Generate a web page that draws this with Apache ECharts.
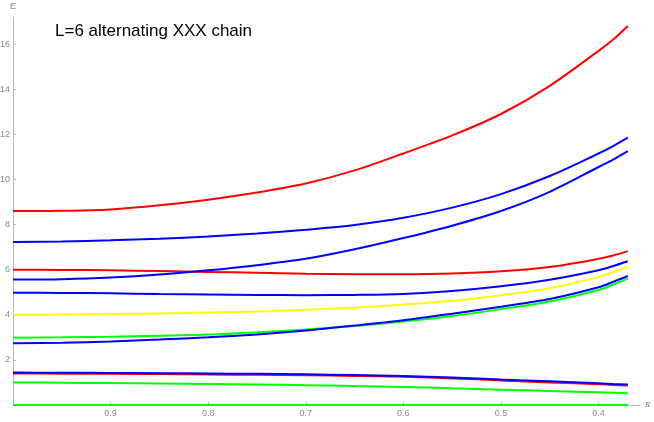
<!DOCTYPE html>
<html>
<head>
<meta charset="utf-8">
<script src="https://cdn.jsdelivr.net/npm/echarts@6/dist/echarts.min.js"></script>
<style>html,body{margin:0;padding:0;background:#fff;}#c{width:654px;height:422px;}</style>
</head>
<body>
<div id="c"></div>
<script>
const kappa = [1.0, 0.95, 0.9, 0.85, 0.8, 0.75, 0.7, 0.65, 0.6, 0.55, 0.5, 0.45, 0.4, 0.385, 0.37];
const redTop   = [8.6, 8.61, 8.67, 8.85, 9.1, 9.42, 9.82, 10.4, 11.15, 11.95, 12.9, 14.15, 15.7, 16.2, 16.8];
const blueA    = [7.23, 7.25, 7.3, 7.37, 7.47, 7.6, 7.77, 7.98, 8.3, 8.75, 9.35, 10.15, 11.15, 11.48, 11.85];
const blueB    = [5.56, 5.58, 5.65, 5.78, 5.97, 6.2, 6.48, 6.9, 7.4, 7.95, 8.6, 9.45, 10.55, 10.88, 11.25];
const redMid   = [6.0, 5.99, 5.97, 5.94, 5.9, 5.86, 5.82, 5.8, 5.8, 5.83, 5.93, 6.12, 6.48, 6.63, 6.82];
const blueC    = [4.98, 4.97, 4.95, 4.92, 4.9, 4.88, 4.87, 4.88, 4.92, 5.05, 5.26, 5.55, 5.97, 6.16, 6.37];
const yellowA  = [4.0, 4.01, 4.03, 4.06, 4.1, 4.15, 4.22, 4.32, 4.45, 4.62, 4.87, 5.18, 5.68, 5.9, 6.13];
const greenA   = [2.98, 3.0, 3.03, 3.07, 3.12, 3.22, 3.35, 3.5, 3.7, 3.95, 4.25, 4.59, 5.1, 5.34, 5.6];
const blueD    = [2.74, 2.76, 2.82, 2.9, 3.0, 3.13, 3.3, 3.52, 3.76, 4.05, 4.36, 4.7, 5.22, 5.46, 5.72];
const blueE    = [1.44, 1.43, 1.42, 1.41, 1.4, 1.38, 1.36, 1.33, 1.29, 1.22, 1.13, 1.05, 0.96, 0.93, 0.91];
const redLow   = [1.4, 1.39, 1.38, 1.37, 1.35, 1.34, 1.32, 1.29, 1.25, 1.18, 1.09, 1.0, 0.92, 0.89, 0.86];
const greenB   = [1.0, 0.99, 0.97, 0.95, 0.93, 0.91, 0.88, 0.84, 0.8, 0.74, 0.68, 0.62, 0.56, 0.54, 0.52];
const greenC   = [0, 0, 0, 0, 0, 0, 0, 0, 0, 0, 0, 0, 0, 0, 0];
const xTicks = [0.9, 0.8, 0.7, 0.6, 0.5, 0.4];
const yTicks = [2, 4, 6, 8, 10, 12, 14, 16];

const RED = '#ff0000', BLUE = '#0000ff', GREEN = '#00ff00', YELLOW = '#ffff00';
const curves = [
  [greenC, GREEN], [greenB, GREEN], [redLow, RED], [blueE, BLUE],
  [greenA, GREEN], [blueD, BLUE], [yellowA, YELLOW], [blueC, BLUE],
  [redMid, RED], [blueB, BLUE], [blueA, BLUE], [redTop, RED]
];

const series = curves.map(([vals, col]) => ({
  type: 'line',
  data: kappa.map((k, i) => [k, vals[i]]),
  smooth: 0.3,
  showSymbol: false,
  symbol: 'none',
  lineStyle: { color: col, width: 2 },
  itemStyle: { color: col },
  silent: true,
  animation: false,
  clip: false
}));

const axisGray = '#b8b8b8';
const labelGray = '#8a8a8a';

const chart = echarts.init(document.getElementById('c'), null, { renderer: 'canvas' });
chart.setOption({
  backgroundColor: '#fff',
  animation: false,
  title: {
    text: 'L=6 alternating XXX chain',
    left: 50, top: 18,
    textStyle: { fontFamily: 'Liberation Sans, Arial, sans-serif', fontSize: 17, fontWeight: 'normal', color: '#000' }
  },
  grid: { left: 13, right: 14, top: 17, bottom: 17, containLabel: false, outerBoundsMode: 'none' },
  xAxis: {
    type: 'value',
    inverse: true,
    min: 0.3575, max: 1.0,
    name: 'κ',
    nameLocation: 'start',
    nameGap: 5,
    nameTextStyle: { color: labelGray, fontSize: 9, fontStyle: 'italic', fontFamily: 'DejaVu Serif, serif', verticalAlign: 'middle' },
    axisLine: { show: true, onZero: false, lineStyle: { color: axisGray, width: 1 } },
    axisTick: { show: true, inside: true, length: 3, customValues: xTicks, lineStyle: { color: axisGray } },
    axisLabel: { show: true, customValues: xTicks, margin: 4, color: labelGray, fontSize: 9, fontFamily: 'Liberation Sans, Arial, sans-serif', formatter: v => v.toFixed(1) },
    splitLine: { show: false }
  },
  yAxis: {
    type: 'value',
    min: 0, max: 17.2,
    name: 'E',
    nameLocation: 'end',
    nameGap: 6,
    nameTextStyle: { color: labelGray, fontSize: 9, fontFamily: 'Liberation Sans, Arial, sans-serif' },
    axisLine: { show: true, onZero: false, lineStyle: { color: axisGray, width: 1 } },
    axisTick: { show: true, inside: true, length: 3, customValues: yTicks, lineStyle: { color: axisGray } },
    axisLabel: { show: true, customValues: yTicks, margin: 3, color: labelGray, fontSize: 9, fontFamily: 'Liberation Sans, Arial, sans-serif' },
    splitLine: { show: false }
  },
  series: series
});
</script>
</body>
</html>
